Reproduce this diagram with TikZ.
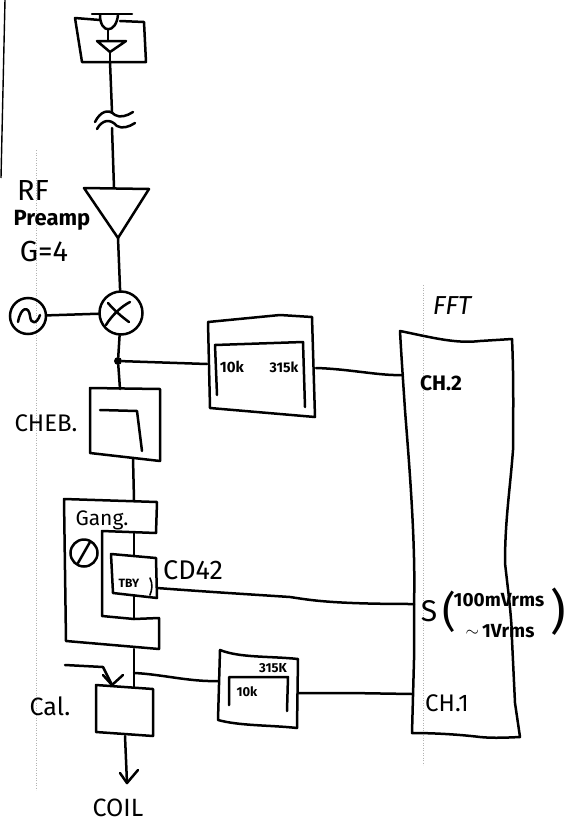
\documentclass[tikz,border=0pt]{standalone}
\usepackage{fontspec}
\setmainfont{Fira Sans}
\begin{document}
\begin{tikzpicture}[x=1pt,y=-1pt,
  ink/.style={draw=black,line width=2.5pt,line join=round,line cap=round},
  thin ink/.style={draw=black,line width=1.6pt,line join=round,line cap=round},
  lab/.style={inner sep=0pt,font=\fontsize{21}{23}\selectfont},
  smalllab/.style={inner sep=0pt,font=\bfseries\fontsize{15}{17}\selectfont},
  circ/.style={circle,draw=black,line width=2.5pt,inner sep=0pt}]
\useasboundingbox[fill=white] (0,0) rectangle (571,825);
\draw[line width=1.4pt] (5,0) -- (1,178);
\draw[gray!60,line width=.5pt,dotted] (36,150) -- (36,790);
\draw[gray!60,line width=.5pt,dotted] (423,285) -- (423,765);
% top box
\coordinate (aIn) at (110,62);
\draw[ink] (100,20) -- (75,18) -- (82,62) -- (146,62) -- (144,22) -- (120,21);
\draw[ink] (92,14) -- (132,14);
\draw[ink] (100,15) .. controls (100,34) and (116,34) .. (118,15);
\draw[ink] (108,29) -- (108,40);
\draw[ink] (97,41) -- (126,41) -- (110,52) -- cycle;
\draw[ink] (110,52) -- (aIn);
% break
\coordinate (brkA) at (112,112);
\coordinate (brkB) at (112,128);
\draw[ink] (aIn) -- (brkA);
\draw[ink] (95,122) .. controls (100,112) and (108,108) .. (115,115) .. controls (120,118) and (127,116) .. (133,112);
\draw[ink] (97,129) .. controls (102,120) and (110,118) .. (117,126) .. controls (122,129) and (129,127) .. (135,123);
% preamp
\coordinate (preT) at (114,188);
\coordinate (preB) at (118,238);
\draw[ink] (brkB) -- (preT);
\draw[ink] (84,188) -- (149,189) -- (preB) -- cycle;
\node[lab,font=\fontsize{29}{31}\selectfont] (rf) at (33,191) {RF};
\node[lab,font=\bfseries\fontsize{22}{24}\selectfont] (pre) at (52,220) {Preamp};
\node[lab,font=\fontsize{29}{31}\selectfont] (gain) at (44,252) {G=4};
% mixer
\node[circ,minimum size=43pt] (mix) at (121,313) {};
\node[circ,minimum size=36pt] (osc) at (28,316) {};
\draw[ink] (preB) -- (mix);
\draw[ink] (osc) -- (mix);
\draw[ink] (106,325) .. controls (112,315) and (122,306) .. (130,302);
\draw[ink] (108,303) .. controls (114,310) and (122,317) .. (129,322);
\draw[ink] (18,322) .. controls (21,306) and (29,306) .. (30,316) .. controls (31,325) and (37,324) .. (40,315);
% junction
\node[circle,fill=black,inner sep=0pt,minimum size=8pt] (jct) at (118,361) {};
\draw[ink] (mix) -- (jct);
% upper filter
\coordinate (fuIn) at (207,364);
\coordinate (fuOut) at (316,368);
\draw[ink] (208,322) -- (280,315) -- (312,317) -- (315,417) -- (210,408) -- cycle;
\draw[ink] (217,395) -- (215,345) -- (303,342) -- (305,407);
\node[smalllab] (k10a) at (232,367) {10k};
\node[smalllab,font=\bfseries\fontsize{14}{16}\selectfont] (k315a) at (284,367) {315k};
\draw[ink] (jct) -- (fuIn);
% FFT
\coordinate (ch2) at (403,375);
\coordinate (chS) at (414,604);
\coordinate (ch1) at (412,694);
\draw[ink] (400,331) .. controls (430,337) and (455,344) .. (480,341) -- (512,339)
  .. controls (514,380) and (513,430) .. (513,450) .. controls (510,490) and (505,520) .. (505,563)
  .. controls (508,590) and (512,620) .. (512,640) -- (515,703) -- (520,737)
  .. controls (500,738) and (490,738) .. (480,737) .. controls (455,734) and (430,733) .. (412,733)
  -- (414,660) -- (chS) .. controls (416,540) and (408,450) .. (405,410) .. controls (403,380) and (401,350) .. (400,331) -- cycle;
\draw[ink] (fuOut) .. controls (350,369) and (380,376) .. (ch2);
\node[lab,font=\itshape\fontsize{26}{28}\selectfont] (fft) at (452,306) {FFT};
\node[lab,font=\bfseries\fontsize{21}{23}\selectfont] (ch2t) at (441,383) {CH.2};
% CHEB
\coordinate (chT) at (120,389);
\coordinate (chB) at (133,458);
\draw[ink] (jct) -- (chT);
\draw[ink] (90,388) -- (160,389) -- (160,461) -- (90,453) -- cycle;
\draw[ink] (100,410) -- (137,411) -- (142,451);
\node[lab,font=\fontsize{24}{26}\selectfont] (cheb) at (46,423) {CHEB.};
% gang
\coordinate (gT) at (134,500);
\coordinate (gB) at (134,533);
\draw[ink] (chB) -- (gT);
\draw[ink] (64,499) -- (157,502) -- (156,533) -- (102,531) -- (102,616) -- (134,619) -- (159,618) -- (159,649) -- (66,641) -- cycle;
\node[lab] (gang) at (102,520) {Gang.};
\node[circ,minimum size=27pt] (att) at (84,553) {};
\draw[ink] (78,563) -- (90,542);
% TBY
\coordinate (tT) at (134,556);
\coordinate (tB) at (134,595);
\coordinate (tO) at (157,588);
\coordinate (lg) at (134,619);
\draw[ink] (gB) -- (tT);
\draw[ink] (111,554) -- (156,558) -- (157,598) -- (113,593) -- cycle;
\node[smalllab,font=\bfseries\fontsize{12}{14}\selectfont] (tby) at (129,583) {TBY};
\draw[thin ink] (150,578) .. controls (153,584) and (152,590) .. (150,595);
\draw[ink] (tB) -- (lg);
\node[lab,font=\fontsize{27}{29}\selectfont] (cd) at (193,570) {CD42};
\draw[ink] (tO) .. controls (210,592) and (260,595) .. (290,597) .. controls (310,600) and (330,604) .. (chS);
% S label
\node[lab,font=\fontsize{30}{32}\selectfont] (st) at (429,611) {S};
\node[lab,font=\fontsize{42}{44}\selectfont] (brk) at (449,612) {(};
\node[lab,font=\fontsize{48}{50}\selectfont] (brkc) at (558,612) {)};
\node[lab,font=\bfseries\fontsize{19}{21}\selectfont] (v1) at (499,600) {100mVrms};
\node[lab,font=\bfseries\fontsize{19}{21}\selectfont] (v2) at (500,631) {\raisebox{1pt}{$\sim$}\,1Vrms};
% cal
\coordinate (gO) at (134,649);
\coordinate (calT) at (134,687);
\coordinate (j2) at (134,673);
\coordinate (flIn) at (218,681);
\coordinate (calB) at (125,736);
\coordinate (coil) at (127,783);
\coordinate (calFree) at (65,665);
\coordinate (calTip) at (112,685);
\draw[ink] (gO) -- (calT);
\draw[ink] (96,685) -- (153,689) -- (153,736) -- (96,732) -- cycle;
\draw[ink] (calFree) -- (103,667) -- (calTip);
\draw[ink] (103,675) -- (calTip) -- (123,675);
\draw[ink] (calB) -- (coil);
\draw[ink] (120,773) -- (coil) -- (138,770);
\node[lab,font=\fontsize{25}{27}\selectfont] (cal) at (50,706) {Cal.};
\node[lab,font=\fontsize{25}{27}\selectfont] (coilt) at (118,808) {COIL};
% lower filter
\draw[ink] (j2) .. controls (160,674) and (190,682) .. (flIn);
\draw[ink] (220,650) .. controls (240,658) and (270,656) .. (298,659) -- (297,728) .. controls (270,725) and (240,726) .. (218,720) -- cycle;
\draw[ink] (229,705) -- (229,677) -- (288,677) -- (287,711);
\node[smalllab,font=\bfseries\fontsize{13}{15}\selectfont] (k10b) at (247,692) {10k};
\node[smalllab,font=\bfseries\fontsize{13}{15}\selectfont] (k315b) at (273,668) {315K};
\coordinate (flOut) at (298,693);
\draw[ink] (flOut) -- (350,693) -- (ch1);
\node[lab,font=\fontsize{24}{26}\selectfont] (ch1t) at (447,703) {CH.1};
\end{tikzpicture}
\end{document}
